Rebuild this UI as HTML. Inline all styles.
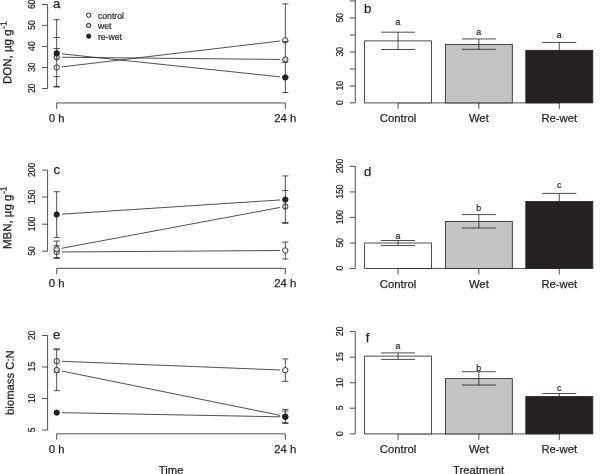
<!DOCTYPE html>
<html lang="en">
<head>
<meta charset="utf-8">
<title>Figure</title>
<style>
html,body{margin:0;padding:0;background:#fff;}
body{width:602px;height:474px;overflow:hidden;}
svg{display:block;}
svg text{font-family:"Liberation Sans",Arial,Helvetica,sans-serif;fill:#231f20;stroke:#231f20;stroke-width:0.25px;}
svg text.s{stroke-width:0.2px;}
</style>
</head>
<body>
<svg width="602" height="474" viewBox="0 0 602 474">
<rect x="0" y="0" width="602" height="474" fill="#fff"/>
<g opacity="0.99">
<path d="M42.10 4.50H47.60V88.50H42.10" fill="none" stroke="#231f20" stroke-width="0.8"/>
<text transform="translate(35.30 88.20) rotate(-89.97) scale(1 1.15)" font-size="8.7" text-anchor="middle" class="s">20</text>
<line x1="42.10" y1="67.50" x2="47.60" y2="67.50" stroke="#231f20" stroke-width="0.8"/>
<text transform="translate(35.30 67.20) rotate(-89.97) scale(1 1.15)" font-size="8.7" text-anchor="middle" class="s">30</text>
<line x1="42.10" y1="46.40" x2="47.60" y2="46.40" stroke="#231f20" stroke-width="0.8"/>
<text transform="translate(35.30 46.10) rotate(-89.97) scale(1 1.15)" font-size="8.7" text-anchor="middle" class="s">40</text>
<line x1="42.10" y1="25.40" x2="47.60" y2="25.40" stroke="#231f20" stroke-width="0.8"/>
<text transform="translate(35.30 25.10) rotate(-89.97) scale(1 1.15)" font-size="8.7" text-anchor="middle" class="s">50</text>
<text transform="translate(35.30 4.20) rotate(-89.97) scale(1 1.15)" font-size="8.7" text-anchor="middle" class="s">60</text>
<path d="M56.70 108.95V102.95H285.30V108.95" fill="none" stroke="#231f20" stroke-width="0.8"/>
<text x="56.70" y="121.75" font-size="11.3" text-anchor="middle">0 h</text>
<text x="285.30" y="121.75" font-size="11.3" text-anchor="middle">24 h</text>
<text x="56.70" y="7.60" font-size="13.2" text-anchor="middle">a</text>
<text transform="translate(11.30 52.60) rotate(-89.97) scale(1 1.02)" font-size="11.5" text-anchor="middle">DON, µg g<tspan dy="-4.7" dx="0.5" font-size="8.7">-1</tspan></text>
<line x1="61.86" y1="66.89" x2="280.14" y2="41.01" stroke="#231f20" stroke-width="0.8"/>
<line x1="61.90" y1="57.25" x2="280.10" y2="59.45" stroke="#231f20" stroke-width="0.8"/>
<line x1="61.87" y1="53.85" x2="280.13" y2="76.85" stroke="#231f20" stroke-width="0.8"/>
<line x1="56.70" y1="48.50" x2="56.70" y2="86.40" stroke="#231f20" stroke-width="0.8"/>
<line x1="53.60" y1="48.50" x2="59.80" y2="48.50" stroke="#231f20" stroke-width="0.8"/>
<line x1="53.60" y1="86.40" x2="59.80" y2="86.40" stroke="#231f20" stroke-width="0.8"/>
<circle cx="56.70" cy="67.50" r="2.7" fill="#fff" stroke="#231f20" stroke-width="0.9"/>
<line x1="56.70" y1="37.50" x2="56.70" y2="48.50" stroke="#231f20" stroke-width="0.8"/>
<line x1="56.70" y1="64.85" x2="56.70" y2="70.15" stroke="#231f20" stroke-width="0.8"/>
<line x1="53.60" y1="37.50" x2="59.80" y2="37.50" stroke="#231f20" stroke-width="0.8"/>
<line x1="53.60" y1="76.60" x2="59.80" y2="76.60" stroke="#231f20" stroke-width="0.8"/>
<circle cx="56.70" cy="57.20" r="2.7" fill="#d2d3d5" stroke="#231f20" stroke-width="0.9"/>
<line x1="56.70" y1="19.70" x2="56.70" y2="37.50" stroke="#231f20" stroke-width="0.8"/>
<line x1="56.70" y1="54.55" x2="56.70" y2="59.85" stroke="#231f20" stroke-width="0.8"/>
<line x1="56.70" y1="86.40" x2="56.70" y2="87.00" stroke="#231f20" stroke-width="0.8"/>
<line x1="53.60" y1="19.70" x2="59.80" y2="19.70" stroke="#231f20" stroke-width="0.8"/>
<line x1="53.60" y1="87.00" x2="59.80" y2="87.00" stroke="#231f20" stroke-width="0.8"/>
<circle cx="56.70" cy="53.30" r="2.7" fill="#231f20" stroke="#231f20" stroke-width="0.9"/>
<line x1="285.30" y1="3.90" x2="285.30" y2="76.90" stroke="#231f20" stroke-width="0.8"/>
<line x1="282.20" y1="3.90" x2="288.40" y2="3.90" stroke="#231f20" stroke-width="0.8"/>
<line x1="282.20" y1="76.90" x2="288.40" y2="76.90" stroke="#231f20" stroke-width="0.8"/>
<circle cx="285.30" cy="40.40" r="2.7" fill="#fff" stroke="#231f20" stroke-width="0.9"/>
<line x1="285.30" y1="41.40" x2="285.30" y2="43.05" stroke="#231f20" stroke-width="0.8"/>
<line x1="285.30" y1="76.90" x2="285.30" y2="77.60" stroke="#231f20" stroke-width="0.8"/>
<line x1="282.20" y1="41.40" x2="288.40" y2="41.40" stroke="#231f20" stroke-width="0.8"/>
<line x1="282.20" y1="77.60" x2="288.40" y2="77.60" stroke="#231f20" stroke-width="0.8"/>
<circle cx="285.30" cy="59.50" r="2.7" fill="#d2d3d5" stroke="#231f20" stroke-width="0.9"/>
<line x1="285.30" y1="77.60" x2="285.30" y2="92.50" stroke="#231f20" stroke-width="0.8"/>
<line x1="282.20" y1="62.30" x2="288.40" y2="62.30" stroke="#231f20" stroke-width="0.8"/>
<line x1="282.20" y1="92.50" x2="288.40" y2="92.50" stroke="#231f20" stroke-width="0.8"/>
<circle cx="285.30" cy="77.40" r="2.7" fill="#231f20" stroke="#231f20" stroke-width="0.9"/>
<circle cx="88.70" cy="15.20" r="2.15" fill="#fff" stroke="#231f20" stroke-width="1.0"/>
<text x="97.90" y="18.90" font-size="8.7" text-anchor="start" class="s">control</text>
<circle cx="88.70" cy="25.50" r="2.15" fill="#d2d3d5" stroke="#231f20" stroke-width="1.0"/>
<text x="97.90" y="28.80" font-size="8.7" text-anchor="start" class="s">wet</text>
<circle cx="88.70" cy="36.20" r="2.15" fill="#231f20" stroke="#231f20" stroke-width="1.0"/>
<text x="97.90" y="39.50" font-size="8.7" text-anchor="start" class="s">re-wet</text>
<path d="M42.10 170.10H47.60V251.20H42.10" fill="none" stroke="#231f20" stroke-width="0.8"/>
<text transform="translate(35.30 250.90) rotate(-89.97) scale(1 1.15)" font-size="8.7" text-anchor="middle" class="s">50</text>
<line x1="42.10" y1="224.20" x2="47.60" y2="224.20" stroke="#231f20" stroke-width="0.8"/>
<text transform="translate(35.30 223.90) rotate(-89.97) scale(1 1.15)" font-size="8.7" text-anchor="middle" class="s">100</text>
<line x1="42.10" y1="197.10" x2="47.60" y2="197.10" stroke="#231f20" stroke-width="0.8"/>
<text transform="translate(35.30 196.80) rotate(-89.97) scale(1 1.15)" font-size="8.7" text-anchor="middle" class="s">150</text>
<text transform="translate(35.30 169.80) rotate(-89.97) scale(1 1.15)" font-size="8.7" text-anchor="middle" class="s">200</text>
<path d="M56.70 274.35V268.35H285.30V274.35" fill="none" stroke="#231f20" stroke-width="0.8"/>
<text x="56.70" y="287.15" font-size="11.3" text-anchor="middle">0 h</text>
<text x="285.30" y="287.15" font-size="11.3" text-anchor="middle">24 h</text>
<text x="56.70" y="173.50" font-size="13.2" text-anchor="middle">c</text>
<text transform="translate(11.30 217.70) rotate(-89.97) scale(1 1.02)" font-size="11.5" text-anchor="middle">MBN, µg g<tspan dy="-4.7" dx="0.5" font-size="8.7">-1</tspan></text>
<line x1="61.90" y1="251.97" x2="280.10" y2="250.53" stroke="#231f20" stroke-width="0.8"/>
<line x1="61.81" y1="248.25" x2="280.19" y2="207.45" stroke="#231f20" stroke-width="0.8"/>
<line x1="61.89" y1="214.16" x2="280.11" y2="199.94" stroke="#231f20" stroke-width="0.8"/>
<line x1="56.70" y1="245.70" x2="56.70" y2="258.40" stroke="#231f20" stroke-width="0.8"/>
<line x1="53.60" y1="245.70" x2="59.80" y2="245.70" stroke="#231f20" stroke-width="0.8"/>
<line x1="53.60" y1="258.40" x2="59.80" y2="258.40" stroke="#231f20" stroke-width="0.8"/>
<circle cx="56.70" cy="252.00" r="2.7" fill="#fff" stroke="#231f20" stroke-width="0.9"/>
<line x1="56.70" y1="241.00" x2="56.70" y2="245.70" stroke="#231f20" stroke-width="0.8"/>
<line x1="56.70" y1="249.35" x2="56.70" y2="254.65" stroke="#231f20" stroke-width="0.8"/>
<line x1="53.60" y1="241.00" x2="59.80" y2="241.00" stroke="#231f20" stroke-width="0.8"/>
<line x1="53.60" y1="257.60" x2="59.80" y2="257.60" stroke="#231f20" stroke-width="0.8"/>
<circle cx="56.70" cy="249.20" r="2.7" fill="#d2d3d5" stroke="#231f20" stroke-width="0.9"/>
<line x1="56.70" y1="191.70" x2="56.70" y2="237.40" stroke="#231f20" stroke-width="0.8"/>
<line x1="53.60" y1="191.70" x2="59.80" y2="191.70" stroke="#231f20" stroke-width="0.8"/>
<line x1="53.60" y1="237.40" x2="59.80" y2="237.40" stroke="#231f20" stroke-width="0.8"/>
<circle cx="56.70" cy="214.50" r="2.7" fill="#231f20" stroke="#231f20" stroke-width="0.9"/>
<line x1="285.30" y1="242.10" x2="285.30" y2="259.00" stroke="#231f20" stroke-width="0.8"/>
<line x1="282.20" y1="242.10" x2="288.40" y2="242.10" stroke="#231f20" stroke-width="0.8"/>
<line x1="282.20" y1="259.00" x2="288.40" y2="259.00" stroke="#231f20" stroke-width="0.8"/>
<circle cx="285.30" cy="250.50" r="2.7" fill="#fff" stroke="#231f20" stroke-width="0.9"/>
<line x1="285.30" y1="190.50" x2="285.30" y2="222.60" stroke="#231f20" stroke-width="0.8"/>
<line x1="282.20" y1="190.50" x2="288.40" y2="190.50" stroke="#231f20" stroke-width="0.8"/>
<line x1="282.20" y1="222.60" x2="288.40" y2="222.60" stroke="#231f20" stroke-width="0.8"/>
<circle cx="285.30" cy="206.50" r="2.7" fill="#d2d3d5" stroke="#231f20" stroke-width="0.9"/>
<line x1="285.30" y1="175.90" x2="285.30" y2="190.50" stroke="#231f20" stroke-width="0.8"/>
<line x1="285.30" y1="203.85" x2="285.30" y2="209.15" stroke="#231f20" stroke-width="0.8"/>
<line x1="285.30" y1="222.60" x2="285.30" y2="223.30" stroke="#231f20" stroke-width="0.8"/>
<line x1="282.20" y1="175.90" x2="288.40" y2="175.90" stroke="#231f20" stroke-width="0.8"/>
<line x1="282.20" y1="223.30" x2="288.40" y2="223.30" stroke="#231f20" stroke-width="0.8"/>
<circle cx="285.30" cy="199.60" r="2.7" fill="#231f20" stroke="#231f20" stroke-width="0.9"/>
<path d="M42.10 335.50H47.60V430.10H42.10" fill="none" stroke="#231f20" stroke-width="0.8"/>
<text transform="translate(35.30 429.80) rotate(-89.97) scale(1 1.15)" font-size="8.7" text-anchor="middle" class="s">5</text>
<line x1="42.10" y1="398.50" x2="47.60" y2="398.50" stroke="#231f20" stroke-width="0.8"/>
<text transform="translate(35.30 398.20) rotate(-89.97) scale(1 1.15)" font-size="8.7" text-anchor="middle" class="s">10</text>
<line x1="42.10" y1="367.00" x2="47.60" y2="367.00" stroke="#231f20" stroke-width="0.8"/>
<text transform="translate(35.30 366.70) rotate(-89.97) scale(1 1.15)" font-size="8.7" text-anchor="middle" class="s">15</text>
<text transform="translate(35.30 335.20) rotate(-89.97) scale(1 1.15)" font-size="8.7" text-anchor="middle" class="s">20</text>
<path d="M56.70 439.80V433.80H285.30V439.80" fill="none" stroke="#231f20" stroke-width="0.8"/>
<text x="56.70" y="452.60" font-size="11.3" text-anchor="middle">0 h</text>
<text x="285.30" y="452.60" font-size="11.3" text-anchor="middle">24 h</text>
<text x="56.70" y="338.80" font-size="13.2" text-anchor="middle">e</text>
<text transform="translate(13.80 382.60) rotate(-89.97)" font-size="11.3" text-anchor="middle">biomass C:N</text>
<line x1="61.90" y1="361.31" x2="280.10" y2="369.99" stroke="#231f20" stroke-width="0.8"/>
<line x1="61.80" y1="371.03" x2="280.20" y2="415.37" stroke="#231f20" stroke-width="0.8"/>
<line x1="61.90" y1="412.70" x2="280.10" y2="416.80" stroke="#231f20" stroke-width="0.8"/>
<line x1="56.70" y1="349.80" x2="56.70" y2="372.40" stroke="#231f20" stroke-width="0.8"/>
<line x1="53.60" y1="349.80" x2="59.80" y2="349.80" stroke="#231f20" stroke-width="0.8"/>
<line x1="53.60" y1="372.40" x2="59.80" y2="372.40" stroke="#231f20" stroke-width="0.8"/>
<circle cx="56.70" cy="361.10" r="2.7" fill="#fff" stroke="#231f20" stroke-width="0.9"/>
<line x1="56.70" y1="348.80" x2="56.70" y2="349.80" stroke="#231f20" stroke-width="0.8"/>
<line x1="56.70" y1="358.45" x2="56.70" y2="363.75" stroke="#231f20" stroke-width="0.8"/>
<line x1="56.70" y1="372.40" x2="56.70" y2="390.70" stroke="#231f20" stroke-width="0.8"/>
<line x1="53.60" y1="348.80" x2="59.80" y2="348.80" stroke="#231f20" stroke-width="0.8"/>
<line x1="53.60" y1="390.70" x2="59.80" y2="390.70" stroke="#231f20" stroke-width="0.8"/>
<circle cx="56.70" cy="370.00" r="2.7" fill="#d2d3d5" stroke="#231f20" stroke-width="0.9"/>
<circle cx="56.70" cy="412.60" r="2.7" fill="#231f20" stroke="#231f20" stroke-width="0.9"/>
<line x1="285.30" y1="358.90" x2="285.30" y2="381.40" stroke="#231f20" stroke-width="0.8"/>
<line x1="282.20" y1="358.90" x2="288.40" y2="358.90" stroke="#231f20" stroke-width="0.8"/>
<line x1="282.20" y1="381.40" x2="288.40" y2="381.40" stroke="#231f20" stroke-width="0.8"/>
<circle cx="285.30" cy="370.20" r="2.7" fill="#fff" stroke="#231f20" stroke-width="0.9"/>
<line x1="285.30" y1="409.40" x2="285.30" y2="423.40" stroke="#231f20" stroke-width="0.8"/>
<line x1="282.20" y1="409.40" x2="288.40" y2="409.40" stroke="#231f20" stroke-width="0.8"/>
<line x1="282.20" y1="423.40" x2="288.40" y2="423.40" stroke="#231f20" stroke-width="0.8"/>
<circle cx="285.30" cy="416.40" r="2.7" fill="#d2d3d5" stroke="#231f20" stroke-width="0.9"/>
<line x1="285.30" y1="413.75" x2="285.30" y2="419.05" stroke="#231f20" stroke-width="0.8"/>
<line x1="282.20" y1="411.10" x2="288.40" y2="411.10" stroke="#231f20" stroke-width="0.8"/>
<line x1="282.20" y1="422.70" x2="288.40" y2="422.70" stroke="#231f20" stroke-width="0.8"/>
<circle cx="285.30" cy="416.90" r="2.7" fill="#231f20" stroke="#231f20" stroke-width="0.9"/>
<text x="171.20" y="473.80" font-size="11.3" text-anchor="middle">Time</text>
<path d="M355.25 -1.00V102.90H349.75" fill="none" stroke="#231f20" stroke-width="0.8"/>
<text transform="translate(342.75 102.60) rotate(-89.97) scale(1 1.15)" font-size="8.7" text-anchor="middle" class="s">0</text>
<line x1="349.75" y1="85.95" x2="355.25" y2="85.95" stroke="#231f20" stroke-width="0.8"/>
<text transform="translate(342.75 85.65) rotate(-89.97) scale(1 1.15)" font-size="8.7" text-anchor="middle" class="s">10</text>
<line x1="349.75" y1="68.95" x2="355.25" y2="68.95" stroke="#231f20" stroke-width="0.8"/>
<line x1="349.75" y1="51.95" x2="355.25" y2="51.95" stroke="#231f20" stroke-width="0.8"/>
<text transform="translate(342.75 51.65) rotate(-89.97) scale(1 1.15)" font-size="8.7" text-anchor="middle" class="s">30</text>
<line x1="349.75" y1="34.95" x2="355.25" y2="34.95" stroke="#231f20" stroke-width="0.8"/>
<line x1="349.75" y1="17.95" x2="355.25" y2="17.95" stroke="#231f20" stroke-width="0.8"/>
<text transform="translate(342.75 17.65) rotate(-89.97) scale(1 1.15)" font-size="8.7" text-anchor="middle" class="s">50</text>
<line x1="349.75" y1="0.95" x2="355.25" y2="0.95" stroke="#231f20" stroke-width="0.8"/>
<path d="M398.05 108.90V102.90H559.30V108.90M478.85 102.90V108.90" fill="none" stroke="#231f20" stroke-width="0.8"/>
<rect x="364.60" y="40.90" width="66.90" height="62.00" fill="#fff" stroke="#231f20" stroke-width="0.8"/>
<rect x="445.40" y="44.45" width="66.90" height="58.45" fill="#c3c4c6" stroke="#231f20" stroke-width="0.8"/>
<rect x="525.80" y="50.30" width="67.00" height="52.60" fill="#231f20" stroke="#231f20" stroke-width="0.8"/>
<text x="398.05" y="122.00" font-size="11.3" text-anchor="middle">Control</text>
<text x="478.85" y="122.00" font-size="11.3" text-anchor="middle">Wet</text>
<text x="559.30" y="122.00" font-size="11.3" text-anchor="middle">Re-wet</text>
<line x1="398.05" y1="49.50" x2="398.05" y2="32.20" stroke="#231f20" stroke-width="0.8"/>
<line x1="381.05" y1="32.20" x2="415.05" y2="32.20" stroke="#231f20" stroke-width="0.8"/>
<line x1="381.05" y1="49.50" x2="415.05" y2="49.50" stroke="#231f20" stroke-width="0.8"/>
<line x1="478.85" y1="49.30" x2="478.85" y2="38.95" stroke="#231f20" stroke-width="0.8"/>
<line x1="461.85" y1="38.95" x2="495.85" y2="38.95" stroke="#231f20" stroke-width="0.8"/>
<line x1="461.85" y1="49.30" x2="495.85" y2="49.30" stroke="#231f20" stroke-width="0.8"/>
<line x1="559.30" y1="50.30" x2="559.30" y2="42.45" stroke="#231f20" stroke-width="0.8"/>
<line x1="542.30" y1="42.45" x2="576.30" y2="42.45" stroke="#231f20" stroke-width="0.8"/>
<text x="397.85" y="25.00" font-size="8.8" text-anchor="middle" class="s">a</text>
<text x="478.65" y="35.40" font-size="8.8" text-anchor="middle" class="s">a</text>
<text x="559.10" y="37.55" font-size="8.8" text-anchor="middle" class="s">a</text>
<text x="367.60" y="12.50" font-size="13.2" text-anchor="middle">b</text>
<path d="M349.75 166.30H355.25V268.45H349.75" fill="none" stroke="#231f20" stroke-width="0.8"/>
<text transform="translate(342.75 268.15) rotate(-89.97) scale(1 1.15)" font-size="8.7" text-anchor="middle" class="s">0</text>
<line x1="349.75" y1="243.00" x2="355.25" y2="243.00" stroke="#231f20" stroke-width="0.8"/>
<text transform="translate(342.75 242.70) rotate(-89.97) scale(1 1.15)" font-size="8.7" text-anchor="middle" class="s">50</text>
<line x1="349.75" y1="217.40" x2="355.25" y2="217.40" stroke="#231f20" stroke-width="0.8"/>
<text transform="translate(342.75 217.10) rotate(-89.97) scale(1 1.15)" font-size="8.7" text-anchor="middle" class="s">100</text>
<line x1="349.75" y1="191.90" x2="355.25" y2="191.90" stroke="#231f20" stroke-width="0.8"/>
<text transform="translate(342.75 191.60) rotate(-89.97) scale(1 1.15)" font-size="8.7" text-anchor="middle" class="s">150</text>
<text transform="translate(342.75 166.00) rotate(-89.97) scale(1 1.15)" font-size="8.7" text-anchor="middle" class="s">200</text>
<path d="M398.05 274.45V268.45H559.30V274.45M478.85 268.45V274.45" fill="none" stroke="#231f20" stroke-width="0.8"/>
<rect x="364.60" y="243.00" width="66.90" height="25.45" fill="#fff" stroke="#231f20" stroke-width="0.8"/>
<rect x="445.40" y="221.40" width="66.90" height="47.05" fill="#c3c4c6" stroke="#231f20" stroke-width="0.8"/>
<rect x="525.80" y="201.40" width="67.00" height="67.05" fill="#231f20" stroke="#231f20" stroke-width="0.8"/>
<text x="398.05" y="287.55" font-size="11.3" text-anchor="middle">Control</text>
<text x="478.85" y="287.55" font-size="11.3" text-anchor="middle">Wet</text>
<text x="559.30" y="287.55" font-size="11.3" text-anchor="middle">Re-wet</text>
<line x1="398.05" y1="245.55" x2="398.05" y2="240.50" stroke="#231f20" stroke-width="0.8"/>
<line x1="381.05" y1="240.50" x2="415.05" y2="240.50" stroke="#231f20" stroke-width="0.8"/>
<line x1="381.05" y1="245.55" x2="415.05" y2="245.55" stroke="#231f20" stroke-width="0.8"/>
<line x1="478.85" y1="228.00" x2="478.85" y2="214.60" stroke="#231f20" stroke-width="0.8"/>
<line x1="461.85" y1="214.60" x2="495.85" y2="214.60" stroke="#231f20" stroke-width="0.8"/>
<line x1="461.85" y1="228.00" x2="495.85" y2="228.00" stroke="#231f20" stroke-width="0.8"/>
<line x1="559.30" y1="201.40" x2="559.30" y2="193.40" stroke="#231f20" stroke-width="0.8"/>
<line x1="542.30" y1="193.40" x2="576.30" y2="193.40" stroke="#231f20" stroke-width="0.8"/>
<text x="397.85" y="238.90" font-size="8.8" text-anchor="middle" class="s">a</text>
<text x="478.65" y="211.00" font-size="8.8" text-anchor="middle" class="s">b</text>
<text x="559.10" y="188.00" font-size="8.8" text-anchor="middle" class="s">c</text>
<text x="367.60" y="176.00" font-size="13.2" text-anchor="middle">d</text>
<path d="M349.75 331.60H355.25V433.90H349.75" fill="none" stroke="#231f20" stroke-width="0.8"/>
<text transform="translate(342.75 433.60) rotate(-89.97) scale(1 1.15)" font-size="8.7" text-anchor="middle" class="s">0</text>
<line x1="349.75" y1="408.20" x2="355.25" y2="408.20" stroke="#231f20" stroke-width="0.8"/>
<text transform="translate(342.75 407.90) rotate(-89.97) scale(1 1.15)" font-size="8.7" text-anchor="middle" class="s">5</text>
<line x1="349.75" y1="382.80" x2="355.25" y2="382.80" stroke="#231f20" stroke-width="0.8"/>
<text transform="translate(342.75 382.50) rotate(-89.97) scale(1 1.15)" font-size="8.7" text-anchor="middle" class="s">10</text>
<line x1="349.75" y1="357.20" x2="355.25" y2="357.20" stroke="#231f20" stroke-width="0.8"/>
<text transform="translate(342.75 356.90) rotate(-89.97) scale(1 1.15)" font-size="8.7" text-anchor="middle" class="s">15</text>
<text transform="translate(342.75 331.30) rotate(-89.97) scale(1 1.15)" font-size="8.7" text-anchor="middle" class="s">20</text>
<path d="M398.05 439.90V433.90H559.30V439.90M478.85 433.90V439.90" fill="none" stroke="#231f20" stroke-width="0.8"/>
<rect x="364.60" y="356.10" width="66.90" height="77.80" fill="#fff" stroke="#231f20" stroke-width="0.8"/>
<rect x="445.40" y="378.60" width="66.90" height="55.30" fill="#c3c4c6" stroke="#231f20" stroke-width="0.8"/>
<rect x="525.80" y="396.45" width="67.00" height="37.45" fill="#231f20" stroke="#231f20" stroke-width="0.8"/>
<text x="398.05" y="453.00" font-size="11.3" text-anchor="middle">Control</text>
<text x="478.85" y="453.00" font-size="11.3" text-anchor="middle">Wet</text>
<text x="559.30" y="453.00" font-size="11.3" text-anchor="middle">Re-wet</text>
<line x1="398.05" y1="359.40" x2="398.05" y2="352.90" stroke="#231f20" stroke-width="0.8"/>
<line x1="381.05" y1="352.90" x2="415.05" y2="352.90" stroke="#231f20" stroke-width="0.8"/>
<line x1="381.05" y1="359.40" x2="415.05" y2="359.40" stroke="#231f20" stroke-width="0.8"/>
<line x1="478.85" y1="385.00" x2="478.85" y2="371.70" stroke="#231f20" stroke-width="0.8"/>
<line x1="461.85" y1="371.70" x2="495.85" y2="371.70" stroke="#231f20" stroke-width="0.8"/>
<line x1="461.85" y1="385.00" x2="495.85" y2="385.00" stroke="#231f20" stroke-width="0.8"/>
<line x1="559.30" y1="396.45" x2="559.30" y2="393.50" stroke="#231f20" stroke-width="0.8"/>
<line x1="542.30" y1="393.50" x2="576.30" y2="393.50" stroke="#231f20" stroke-width="0.8"/>
<text x="397.85" y="349.30" font-size="8.8" text-anchor="middle" class="s">a</text>
<text x="478.65" y="370.80" font-size="8.8" text-anchor="middle" class="s">b</text>
<text x="559.10" y="390.80" font-size="8.8" text-anchor="middle" class="s">c</text>
<text x="367.60" y="341.50" font-size="13.2" text-anchor="middle">f</text>
<text x="478.60" y="473.80" font-size="11.3" text-anchor="middle">Treatment</text>
</g>
</svg>
</body>
</html>
